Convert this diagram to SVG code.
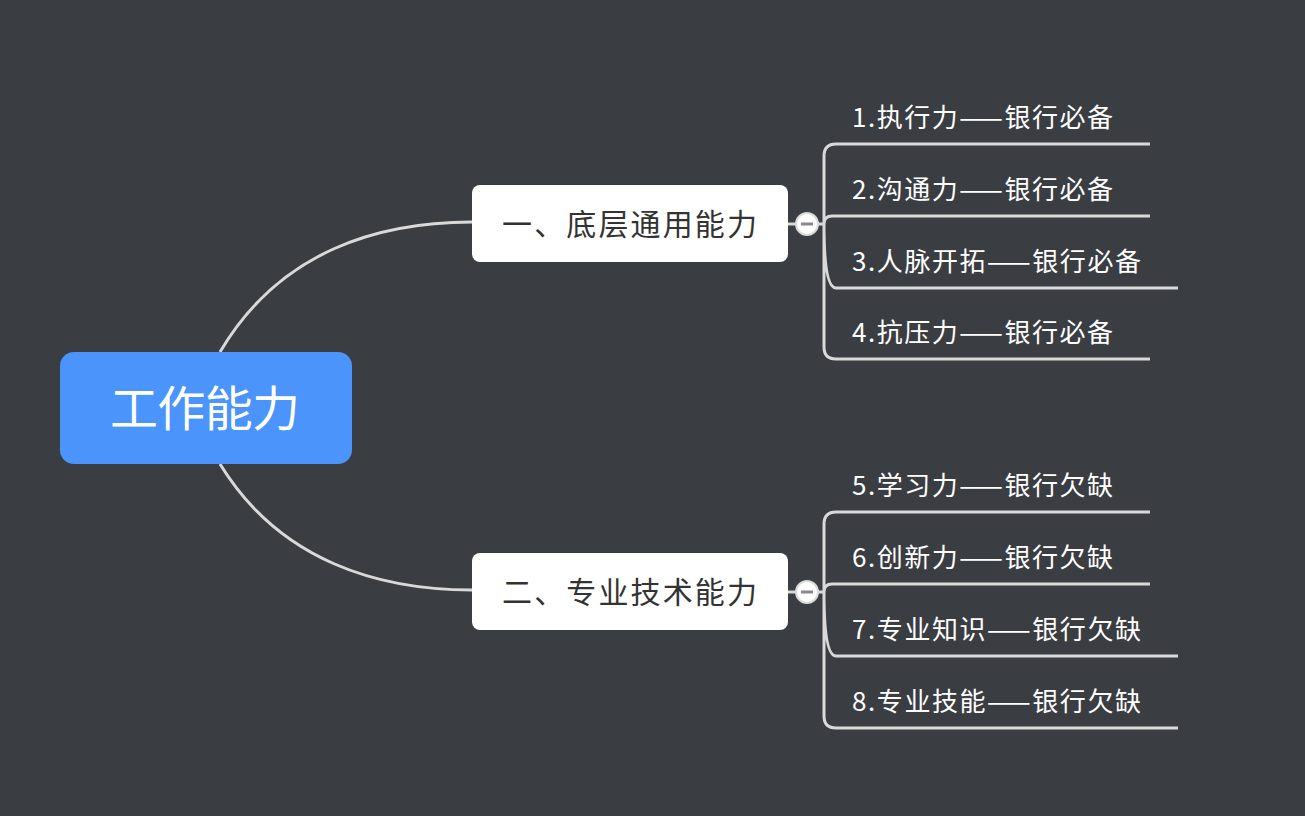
<svg xmlns="http://www.w3.org/2000/svg" width="1305" height="816" viewBox="0 0 1305 816">
<style>
.c{fill:none;stroke:#d9d9d9;stroke-width:3}
.t{font-family:"Noto Sans CJK SC",sans-serif;fill:#fff;font-size:26px}
.b{font-family:"Noto Sans CJK SC",sans-serif;fill:#333;font-size:30px}
</style>
<rect width="1305" height="816" fill="#3a3d42"/>
<g id="connectors">
<path class="c" d="M220 352 C280 250 380 222 472 222"/>
<path class="c" d="M220 464 C280 562 380 590 472 590"/>
<path class="c" d="M788 224 H824 M824 224 V156 Q824 144 836 144 H1150 M824 224 Q824 216 832 216 H1150 M824 224 Q824 288 836 288 H1178 M824 224 V347 Q824 359 836 359 H1150"/>
<path class="c" d="M788 592 H824 M824 592 V524 Q824 512 836 512 H1150 M824 592 Q824 584 832 584 H1150 M824 592 Q824 656 836 656 H1178 M824 592 V716 Q824 728 836 728 H1178"/>
</g>
<g id="root"><rect x="60" y="352" width="292" height="112" rx="14" fill="#4a94fc"/><text x="110" y="426" font-family="Noto Sans CJK SC,sans-serif" font-size="48" fill="#fff" textLength="190">工作能力</text></g>
<g id="b1"><rect x="472" y="185" width="316" height="77" rx="8" fill="#fff"/><text class="b" x="502" y="235" textLength="255">一、底层通用能力</text>
<circle cx="807" cy="224" r="11" fill="#fff" stroke="#d9d9d9" stroke-width="2"/><rect x="801" y="222.5" width="12" height="3" fill="#888"/></g>
<g id="b2"><rect x="472" y="553" width="316" height="77" rx="8" fill="#fff"/><text class="b" x="502" y="603" textLength="255">二、专业技术能力</text>
<circle cx="807" cy="592" r="11" fill="#fff" stroke="#d9d9d9" stroke-width="2"/><rect x="801" y="590.5" width="12" height="3" fill="#888"/></g>
<g id="l1"><text class="t" x="852" y="127" textLength="261">1.执行力——银行必备</text></g>
<g id="l2"><text class="t" x="852" y="199" textLength="261">2.沟通力——银行必备</text></g>
<g id="l3"><text class="t" x="852" y="271" textLength="289">3.人脉开拓——银行必备</text></g>
<g id="l4"><text class="t" x="852" y="342" textLength="261">4.抗压力——银行必备</text></g>
<g id="l5"><text class="t" x="852" y="495" textLength="261">5.学习力——银行欠缺</text></g>
<g id="l6"><text class="t" x="852" y="567" textLength="261">6.创新力——银行欠缺</text></g>
<g id="l7"><text class="t" x="852" y="639" textLength="289">7.专业知识——银行欠缺</text></g>
<g id="l8"><text class="t" x="852" y="711" textLength="289">8.专业技能——银行欠缺</text></g>
</svg>
